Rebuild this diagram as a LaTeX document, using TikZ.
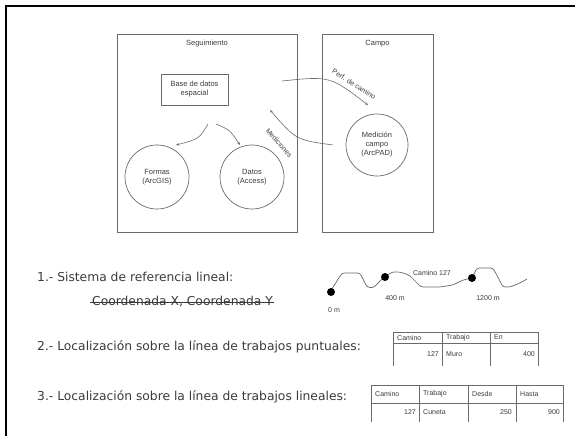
\documentclass[tikz,border=0pt]{standalone}
\usepackage{fontspec}
\setmainfont{Liberation Sans}
\newfontfamily\labfont{DejaVu Sans}
\usetikzlibrary{arrows.meta}
\definecolor{ln}{HTML}{6A6A6A}
\definecolor{tx}{HTML}{3A3A3A}
\begin{document}
\begin{tikzpicture}[x=1pt,y=-1pt,
  panel/.style={draw=ln, line width=0.7pt, inner sep=0pt},
  dbbox/.style={draw=ln, line width=0.7pt, minimum width=67pt, minimum height=31pt, align=center, font=\fontsize{7.5}{9}\selectfont, text=tx, inner sep=1pt},
  circ/.style={draw=ln, line width=0.7pt, circle, minimum size=64pt, align=center, font=\fontsize{7.5}{9}\selectfont, text=tx, inner sep=0pt},
  arr/.style={draw=ln, line width=0.6pt, -{Stealth[length=3pt,width=2.5pt]}},
  small/.style={font=\fontsize{7}{8}\selectfont, text=tx, inner sep=1pt},
  heading/.style={font=\labfont\fontsize{12.3}{14}\selectfont, text=tx, anchor=west, inner sep=0pt},
  tline/.style={draw=ln, line width=0.6pt},
  road/.style={draw=ln, line width=0.7pt, rounded corners=2.5pt},
  dot/.style={fill=black, circle, minimum size=8pt, inner sep=0pt}]
\useasboundingbox (0,0) rectangle (575,436);
\draw[line width=2pt] (6,436) -- (6,6) -- (575,6);

% panels
\node[panel, minimum width=180pt, minimum height=198pt] (seg) at (207,133) {};
\node[panel, minimum width=111pt, minimum height=198pt] (cam) at (377.5,133) {};
\node[small, font=\fontsize{7.5}{9}\selectfont, anchor=north] (segl) at ([yshift=-5pt]seg.north) {Seguimiento};
\node[small, font=\fontsize{7.5}{9}\selectfont, anchor=north] (caml) at ([yshift=-5pt]cam.north) {Campo};

\node[dbbox] (base) at (194.5,89.5) {Base de datos\\espacial};
\node[circ] (formas) at (157,177) {Formas\\(ArcGIS)};
\node[circ] (datos) at (252,177) {Datos\\(Access)};
\node[circ, minimum size=62pt] (med) at (377,145) {Medición\\campo\\(ArcPAD)};

\coordinate (a1s) at (208,124); \coordinate (a1e) at (176,145);
\coordinate (a2s) at (216,124); \coordinate (a2e) at (240,145);
\coordinate (a3s) at (282,81); \coordinate (a3e) at (368,105);
\coordinate (a4s) at (333,145); \coordinate (a4e) at (270,110);
\draw[arr] (a1s) .. controls (199,139) .. (a1e);
\draw[arr] (a2s) .. controls (230,130) .. (a2e);
\draw[arr] (a3s) .. controls (330,76) .. (a3e);
\draw[arr] (a4s) .. controls (296,140) .. (a4e);
\node[small, rotate=-32] (perf) at (354,84) {Perf. de camino};
\node[small, rotate=-48] (medic) at (279,143) {Mediciones};

% section 1
\node[heading] (h1) at (37,277) {1.- Sistema de referencia lineal:};
\node[heading] (h1b) at (92,302) {Coordenada X, Coordenada Y};
\draw[tx, line width=0.9pt] ([xshift=-2pt]h1b.west) -- ([xshift=1pt]h1b.east);

\draw[road] (330,292) -- (342,273) -- (360,273) -- (367,287) -- (373,288) -- (383,278) -- (392,272) -- (400,272) -- (409,275) -- (413,279) -- (417,283) -- (421,287) -- (440,287) -- (453,285) -- (463,280) -- (472,278) -- (477,268) -- (493,268) -- (503,287) -- (510,287) -- (520,283) -- (527,279);
\node[dot] (d0) at (331,292) {};
\node[dot] (d1) at (385,277) {};
\node[dot] (d2) at (472,278) {};
\node[small, fill=white, inner sep=0.5pt] (cam127) at (432,273) {Camino 127};
\node[small] (l0) at (334,310) {0 m};
\node[small] (l1) at (395,298) {400 m};
\node[small] (l2) at (488,298) {1200 m};

% section 2
\node[heading] (h2) at (37,347) {2.- Localización sobre la línea de trabajos puntuales:};
\draw[tline] (393,332) -- (538,332) (393,343) -- (538,343)
  (393,332) -- (393,366) (442,332) -- (442,366) (490,332) -- (490,366) (538,332) -- (538,366);
\node[small, anchor=west] (t1a) at (396,337.5) {Camino};
\node[small, anchor=west] (t1b) at (445,337.5) {Trabajo};
\node[small, anchor=west] (t1c) at (493,337.5) {En};
\node[small, anchor=east] (t1d) at (440,354) {127};
\node[small, anchor=west] (t1e) at (445,354) {Muro};
\node[small, anchor=east] (t1f) at (536,354) {400};

% section 3
\node[heading] (h3) at (37,397) {3.- Localización sobre la línea de trabajos lineales:};
\draw[tline] (371,385) -- (563,385) (371,403) -- (563,403)
  (371,385) -- (371,422) (419,385) -- (419,422) (468,385) -- (468,422) (516,385) -- (516,422) (563,385) -- (563,422);
\node[small, anchor=west] (t2a) at (374,394) {Camino};
\node[small, anchor=west] (t2b) at (422,394) {Trabajo};
\node[small, anchor=west] (t2c) at (471,394) {Desde};
\node[small, anchor=west] (t2d) at (519,394) {Hasta};
\node[small, anchor=east] (t2e) at (417,412) {127};
\node[small, anchor=west] (t2f) at (422,412) {Cuneta};
\node[small, anchor=east] (t2g) at (513,412) {250};
\node[small, anchor=east] (t2h) at (561,412) {900};
\end{tikzpicture}
\end{document}
